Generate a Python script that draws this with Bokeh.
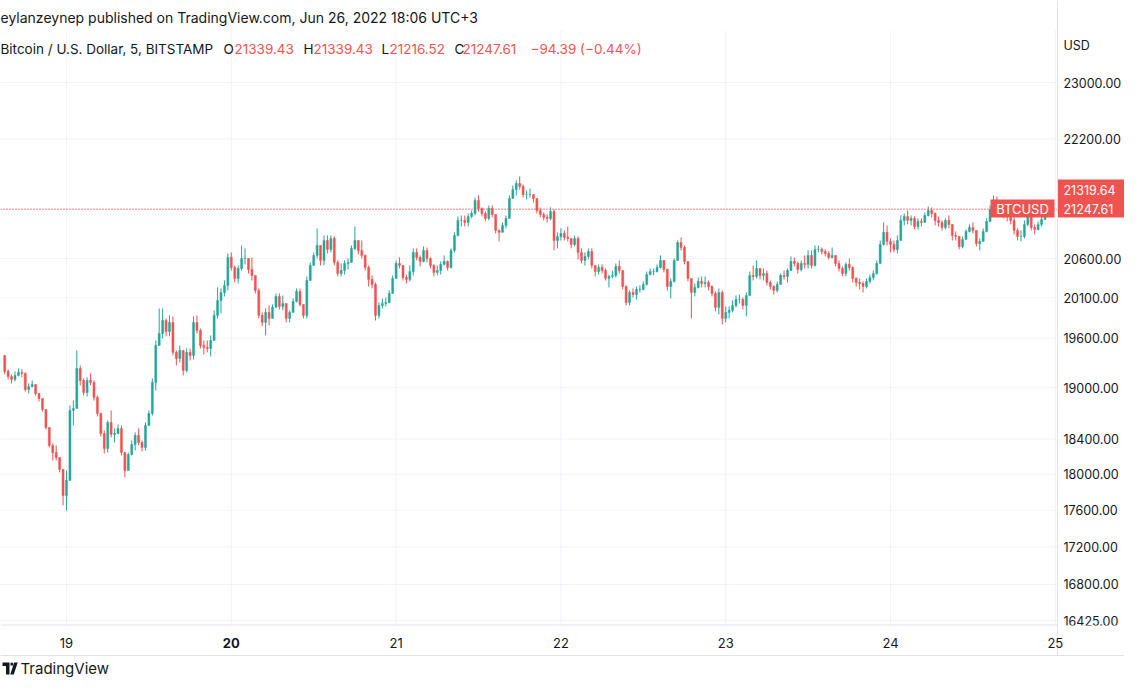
import numpy as np
import pandas as pd
from bokeh.plotting import figure
from bokeh.models import (Range1d, Label, LabelSet, Span, ColumnDataSource,
                          BoxAnnotation, PolyAnnotation)
from bokeh.core.properties import value
from bokeh.embed import file_html
from bokeh.resources import INLINE

START = "2022-06-18 15:00"
FREQ = "30min"
FIRST_OPEN = 19389

CLOSE = [19196, 19136, 19100, 19148, 19184, 19172, 18980, 19016, 19040, 18933,
         18874, 18744, 18534, 18327, 18246, 18190, 18054, 17763, 17929, 18733,
         18756, 19232, 19088, 18944, 19088, 19064, 18886, 18697, 18465, 18292,
         18592, 18454, 18465, 18523, 18246, 18042, 18224, 18338, 18442, 18361,
         18304, 18557, 18697, 19064, 19511, 19657, 19818, 19682, 19794, 19426,
         19352, 19450, 19208, 19426, 19389, 19794, 19694, 19511, 19487, 19474,
         19572, 19881, 20067, 20168, 20257, 20615, 20486, 20346, 20473, 20602,
         20602, 20460, 20384, 20194, 19881, 19794, 19918, 19843, 19980, 20118,
         19992, 20030, 19843, 19918, 20055, 20181, 20017, 19881, 20320, 20512,
         20641, 20770, 20576, 20835, 20719, 20862, 20551, 20409, 20447, 20538,
         20551, 20732, 20835, 20706, 20641, 20486, 20333, 20270, 19881, 20005,
         20030, 20042, 20156, 20346, 20538, 20512, 20358, 20333, 20434, 20680,
         20615, 20563, 20706, 20602, 20512, 20422, 20447, 20525, 20563, 20486,
         20706, 20901, 21098, 21098, 21072, 21151, 21190, 21363, 21257, 21190,
         21125, 21257, 21177, 20967, 20941, 21032, 21125, 21390, 21511, 21592,
         21551, 21444, 21444, 21444, 21390, 21230, 21177, 21138, 21125, 21217,
         20835, 20888, 20927, 20875, 20862, 20783, 20862, 20680, 20576, 20628,
         20693, 20512, 20434, 20486, 20447, 20346, 20371, 20384, 20499, 20447,
         20244, 20042, 20168, 20143, 20206, 20206, 20270, 20396, 20434, 20434,
         20486, 20576, 20460, 20244, 20308, 20576, 20809, 20744, 20563, 20346,
         20168, 20232, 20308, 20282, 20295, 20244, 20156, 19980, 20168, 19843,
         19918, 19943, 20005, 20080, 20080, 20005, 20130, 20384, 20371, 20473,
         20384, 20409, 20295, 20244, 20194, 20270, 20384, 20371, 20447, 20563,
         20538, 20460, 20538, 20525, 20641, 20512, 20719, 20719, 20693, 20667,
         20615, 20641, 20538, 20473, 20409, 20525, 20486, 20346, 20295, 20282,
         20244, 20308, 20358, 20409, 20538, 20783, 20941, 20822, 20783, 20719,
         20835, 21098, 21151, 21098, 21125, 21019, 21085, 21072, 21164, 21230,
         21190, 21098, 21072, 21006, 21098, 21046, 20901, 20888, 20757, 20849,
         20954, 21006, 20967, 20796, 20822, 20954, 21085, 21243, 21363, 21296,
         21230, 21164, 21151, 21098, 20967, 20888, 20888, 21046, 21151, 21006,
         20980, 21046, 21111, 21247.61]

HIGH = [19352, 19220, 19160, 19196, 19232, 19220, 19184, 19052, 19088, 19028,
        18933, 18874, 18744, 18534, 18350, 18327, 18178, 18042, 18042, 18791,
        18850, 19450, 19268, 19112, 19124, 19172, 19088, 18909, 18709, 18500,
        18615, 18733, 18523, 18569, 18557, 18212, 18246, 18384, 18477, 18523,
        18384, 18592, 18733, 19112, 19572, 19968, 19968, 19843, 19881, 19868,
        19450, 19511, 19450, 19474, 19474, 19868, 19881, 19719, 19572, 19572,
        19633, 19943, 20232, 20219, 20320, 20667, 20680, 20512, 20512, 20770,
        20732, 20551, 20615, 20346, 20219, 19918, 19968, 20005, 20017, 20156,
        20156, 20130, 20005, 19943, 20092, 20219, 20219, 19992, 20371, 20551,
        20680, 20993, 20770, 20901, 20901, 20901, 20888, 20576, 20538, 20576,
        20602, 20770, 21019, 20835, 20835, 20654, 20512, 20384, 20295, 20042,
        20092, 20105, 20194, 20384, 20576, 20615, 20512, 20396, 20512, 20732,
        20732, 20641, 20757, 20744, 20615, 20525, 20512, 20563, 20641, 20576,
        20732, 20941, 21151, 21164, 21164, 21190, 21230, 21403, 21430, 21270,
        21217, 21296, 21296, 21138, 20980, 21072, 21164, 21430, 21565, 21632,
        21686, 21578, 21497, 21524, 21430, 21390, 21270, 21204, 21177, 21270,
        21243, 20941, 20993, 20967, 21019, 20862, 20901, 20888, 20732, 20680,
        20732, 20732, 20512, 20525, 20525, 20473, 20396, 20447, 20538, 20576,
        20434, 20257, 20194, 20219, 20244, 20257, 20308, 20434, 20473, 20473,
        20525, 20641, 20576, 20473, 20346, 20602, 20835, 20875, 20770, 20551,
        20346, 20282, 20358, 20371, 20371, 20320, 20257, 20181, 20219, 20194,
        19992, 19992, 20067, 20130, 20143, 20105, 20168, 20434, 20512, 20576,
        20447, 20473, 20447, 20320, 20257, 20308, 20409, 20447, 20473, 20628,
        20615, 20563, 20576, 20641, 20706, 20706, 20770, 20770, 20744, 20719,
        20693, 20744, 20628, 20576, 20499, 20551, 20602, 20499, 20358, 20346,
        20308, 20346, 20396, 20447, 20576, 20835, 21072, 21032, 20862, 20835,
        20901, 21164, 21190, 21230, 21164, 21151, 21125, 21125, 21204, 21283,
        21270, 21204, 21151, 21098, 21125, 21164, 21019, 20954, 20875, 20888,
        20980, 21046, 21072, 20967, 20862, 20993, 21125, 21296, 21430, 21417,
        21323, 21257, 21217, 21177, 21138, 20993, 20967, 21098, 21204, 21177,
        21046, 21085, 21164, 21296]

LOW = [19160, 19100, 19052, 19076, 19136, 19124, 18956, 18933, 19004, 18909,
       18838, 18721, 18511, 18304, 18156, 18156, 18020, 17652, 17596, 17952,
       18557, 18791, 19028, 18909, 18897, 19028, 18850, 18662, 18431, 18235,
       18246, 18419, 18361, 18454, 18212, 17963, 18065, 18212, 18269, 18327,
       18258, 18269, 18557, 18674, 18968, 19511, 19596, 19621, 19621, 19389,
       19268, 19304, 19148, 19184, 19328, 19340, 19657, 19474, 19401, 19426,
       19377, 19596, 19843, 19905, 20118, 20194, 20447, 20295, 20282, 20447,
       20525, 20409, 20320, 20156, 19843, 19744, 19633, 19756, 19843, 19992,
       19955, 19943, 19794, 19794, 19943, 20042, 19992, 19843, 19843, 20320,
       20512, 20602, 20512, 20512, 20667, 20680, 20512, 20371, 20371, 20396,
       20460, 20551, 20706, 20654, 20602, 20447, 20244, 20219, 19818, 19843,
       19968, 19992, 20030, 20168, 20384, 20473, 20320, 20282, 20308, 20384,
       20576, 20499, 20551, 20551, 20473, 20371, 20384, 20396, 20512, 20447,
       20473, 20680, 20888, 21019, 21019, 21019, 21125, 21164, 21217, 21151,
       21085, 21098, 21138, 20927, 20822, 20941, 20993, 21151, 21417, 21430,
       21511, 21403, 21377, 21403, 21336, 21190, 21138, 21098, 21072, 21098,
       20706, 20732, 20835, 20835, 20822, 20732, 20757, 20589, 20538, 20512,
       20589, 20473, 20371, 20396, 20409, 20320, 20232, 20346, 20358, 20409,
       20206, 20005, 20005, 20105, 20080, 20168, 20194, 20257, 20384, 20384,
       20422, 20473, 20422, 20194, 20092, 20295, 20628, 20706, 20525, 20308,
       19843, 20118, 20219, 20232, 20232, 20194, 20118, 19930, 19893, 19769,
       19794, 19843, 19918, 19980, 20030, 19955, 19868, 20130, 20320, 20346,
       20333, 20320, 20257, 20206, 20143, 20168, 20282, 20333, 20295, 20447,
       20499, 20409, 20434, 20473, 20473, 20473, 20499, 20680, 20654, 20628,
       20589, 20602, 20499, 20434, 20371, 20371, 20447, 20295, 20244, 20206,
       20168, 20219, 20282, 20320, 20396, 20551, 20770, 20770, 20680, 20680,
       20667, 20888, 21032, 21046, 21032, 20980, 20980, 21019, 21072, 21151,
       21138, 21032, 21019, 20967, 20980, 20993, 20835, 20835, 20719, 20732,
       20862, 20941, 20927, 20757, 20706, 20835, 20941, 21072, 21230, 21243,
       21177, 21125, 21085, 21046, 20914, 20835, 20822, 20862, 21019, 20967,
       20914, 20967, 21019, 21111]

DAY_TICKS = [19, 20, 21, 22, 23, 24, 25]
DAY_LABELS = ["19", "20", "21", "22", "23", "24", "25"]
DAY_STYLES = ["normal", "bold", "normal", "normal", "normal", "normal", "normal"]
PRICE_TICKS = [16425, 16800, 17200, 17600, 18000, 18400, 19000, 19600,
               20100, 20600, 22200, 23000]
LAST_PRICE = 21247.61
PREV_PRICE = 21319.64

HEADER1 = "eylanzeynep published on TradingView.com, Jun 26, 2022 18:06 UTC+3"
SYMBOL = "Bitcoin / U.S. Dollar, 5, BITSTAMP"
OHLC = [("O", "21339.43"), ("H", "21339.43"), ("L", "21216.52"), ("C", "21247.61")]
CHANGE = "\u221294.39 (\u22120.44%)"

# ---------------- styling / layout ----------------
UP = "#26a69a"
DOWN = "#ef5350"
TXT = "#131722"
GRID = "#f0f3fa"
SEP = "#e0e3eb"
FONT = "Inter"
AXIS_FS = "12.5px"

W, H = 1124, 678            # canvas; the whole canvas is the plot frame
DAY19_X, PX_PER_DAY = 66.0, 164.8      # x scale (pixels)
REF_P, REF_Y, PX_PER_LN = 23000.0, 82.0, 1598.0   # log y scale (pixels)
CHART_TOP, CHART_BOT = 30, 624.5
SEP_X = 1057                # chart | price-axis separator
AXIS_LBL_X = 1063
XLBL_Y = 642
BOTTOM_LINE_Y = 655


def day_at(X):
    return 19 + (X - DAY19_X) / PX_PER_DAY


def price_at(Y):
    return REF_P * np.exp(-(Y - REF_Y) / PX_PER_LN)


# ---------------- derived series ----------------
times = pd.date_range(START, periods=len(CLOSE), freq=FREQ)
x = ((times - pd.Timestamp("2022-06-01")) / pd.Timedelta(days=1)).to_numpy() + 1.0
close = np.array(CLOSE, dtype=float)
opn = np.concatenate([[FIRST_OPEN], close[:-1]])
high = np.maximum.reduce([np.array(HIGH, float), opn, close])
low = np.minimum.reduce([np.array(LOW, float), opn, close])
color = np.where(close >= opn, UP, DOWN)

src = ColumnDataSource(dict(x=x, h=high, l=low, top=np.maximum(opn, close),
                            bot=np.minimum(opn, close), color=color))

p = figure(width=W, height=H,
           x_range=Range1d(day_at(0), day_at(W)), y_range=Range1d(price_at(H), price_at(0)),
           y_axis_type="log", x_axis_location=None, y_axis_location=None,
           output_backend="svg", toolbar_location=None,
           min_border_left=0, min_border_right=0, min_border_top=0, min_border_bottom=0)
p.background_fill_color = "white"
p.border_fill_color = "white"
p.outline_line_color = None
p.xgrid.visible = False
p.ygrid.visible = False

# grid (from the tick arrays, through the scales)
p.segment(x0=day_at(0), x1=day_at(SEP_X), y0=PRICE_TICKS, y1=PRICE_TICKS,
          line_color=GRID, line_width=1)
p.segment(x0=DAY_TICKS, x1=DAY_TICKS, y0=price_at(CHART_BOT), y1=price_at(CHART_TOP),
          line_color=GRID, line_width=1)

# candles
bar_w = 0.58 / 48.0
p.segment(x0="x", y0="l", x1="x", y1="h", color="color", line_width=1, source=src)
p.vbar(x="x", width=bar_w, top="top", bottom="bot", fill_color="color",
       line_color="color", line_width=0.5, source=src)

# last-price dotted line
p.add_layout(Span(location=LAST_PRICE, dimension="width", line_color=DOWN,
                  line_width=1.5, line_dash="1 2"))


def box(X0, X1, Y0, Y1, fill):
    p.add_layout(BoxAnnotation(left=X0, right=X1, bottom=H - Y1, top=H - Y0,
                               left_units="screen", right_units="screen",
                               bottom_units="screen", top_units="screen",
                               fill_color=fill, fill_alpha=1, line_color=None))


def lab(X, Y, text, color=TXT, size="13px", align="left", style="normal"):
    p.add_layout(Label(x=X, y=H - Y, x_units="screen", y_units="screen", text=text,
                       text_font=FONT, text_font_size=size, text_color=color,
                       text_align=align, text_baseline="middle", text_font_style=style))


# price axis labels (tick values through the y scale)
ysrc = ColumnDataSource(dict(y=PRICE_TICKS, t=[f"{v:.2f}" for v in PRICE_TICKS]))
p.add_layout(LabelSet(x=AXIS_LBL_X, y="y", text="t", x_units="screen", y_units="data",
                      source=ysrc, text_font=value(FONT), text_font_size=value(AXIS_FS),
                      text_color=TXT, text_align="left", text_baseline="middle"))

# bottom band (just clips the foot of the lowest price label, as in the original)
box(0, W, CHART_BOT + 0.5, BOTTOM_LINE_Y, "white")
box(0, SEP_X, CHART_BOT - 0.5, CHART_BOT + 0.5, SEP)          # x axis line
box(SEP_X - 0.5, SEP_X + 0.5, 0, BOTTOM_LINE_Y, SEP)          # price axis line
box(0, W, BOTTOM_LINE_Y - 0.5, BOTTOM_LINE_Y + 0.5, SEP)      # bottom band line

# date axis labels (tick values through the x scale)
xsrc = ColumnDataSource(dict(x=DAY_TICKS, t=DAY_LABELS, s=DAY_STYLES))
p.add_layout(LabelSet(x="x", y=H - XLBL_Y, text="t", x_units="data", y_units="screen",
                      source=xsrc, text_font=value(FONT), text_font_size=value("13px"),
                      text_color=TXT, text_font_style="s", text_align="center",
                      text_baseline="middle"))

# header
lab(0, 17, HEADER1, size="14px")
lab(0, 48, SYMBOL, size="13.5px")
ox = [223, 303, 381, 454]
vx = [234, 313, 389, 462]
for (k, v), a, b in zip(OHLC, ox, vx):
    lab(a, 48, k, size="13.5px")
    lab(b, 48, v, color=DOWN, size="13.5px")
lab(530, 48, CHANGE, color=DOWN, size="13.5px")

# currency
lab(AXIS_LBL_X, 45, "USD", size=AXIS_FS)

# price tags
box(SEP_X + 0.5, W, 179, 217, DOWN)
lab(AXIS_LBL_X, 189, f"{PREV_PRICE:.2f}", color="white", size=AXIS_FS)
lab(AXIS_LBL_X, 208.5, f"{LAST_PRICE:.2f}", color="white", size=AXIS_FS)
box(990, SEP_X - 3, 199, 217, DOWN)
lab((990 + SEP_X - 3) / 2, 208.5, "BTCUSD", color="white", size="13px", align="center")


# TradingView logo + wordmark
def poly(pts):
    p.add_layout(PolyAnnotation(xs=[a for a, b in pts], ys=[H - b for a, b in pts],
                                xs_units="screen", ys_units="screen",
                                fill_color=TXT, fill_alpha=1, line_color=None))


poly([(2, 662), (9, 662), (9, 674), (5.5, 674), (5.5, 665.5), (2, 665.5)])
poly([(10, 662.3), (12.6, 662.3), (12.6, 665), (10, 665)])
poly([(13.6, 662), (17.2, 662), (13.2, 674), (9.8, 674)])
lab(20, 668, "TradingView", size="15px")

open("out.html", "w").write(file_html(p, INLINE))
